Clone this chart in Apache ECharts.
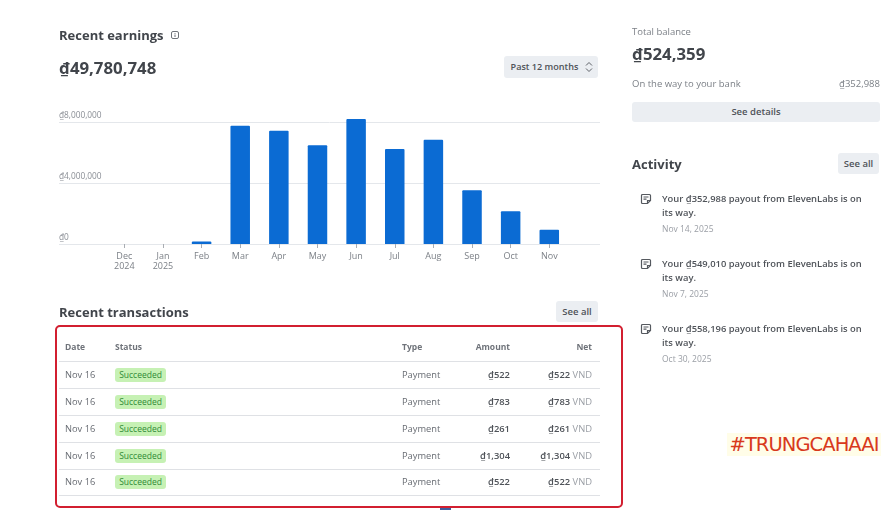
<!DOCTYPE html>
<html lang="en">
<head>
  <meta charset="UTF-8" />
  <title>Recent earnings</title>
  <script src="https://cdn.jsdelivr.net/npm/echarts@6/dist/echarts.min.js"></script>
  <style>
    html, body { margin: 0; padding: 0; background: #fff; }
    body { width: 889px; height: 510px; position: relative; overflow: hidden;
           font-family: "Open Sans", "Noto Sans", sans-serif; color: #4b4f56; }
    #chart { position: absolute; left: 0; top: 0; width: 889px; height: 510px; }
    .t { position: absolute; white-space: nowrap; line-height: 14px; transform: translateY(-7px); }
    .r { transform: translate(-100%, -7px); }
    .title { font-size: 13px; font-weight: 700; color: #41454b; }
    .big { font-size: 16.8px; font-weight: 700; color: #41454b; }
    .small { font-size: 9.5px; color: #7c8087; }
    .cell { font-size: 9.3px; color: #676b72; }
    .head { font-size: 8.5px; font-weight: 700; color: #6f737a; }
    .strong { font-size: 9.4px; font-weight: 600; color: #4f5359; }
    .date { font-size: 8.5px; color: #9a9ea5; }
    .vnd { color: #9a9ea5; font-weight: 400; }
    .btn { position: absolute; background: #ebeef2; border-radius: 3px; font-size: 9.5px;
           font-weight: 600; color: #4f5359; text-align: center; box-sizing: border-box; }
    .badge { position: absolute; left: 115px; width: 51px; height: 14px; line-height: 14px;
             background: #c6f1b4; border-radius: 3px; font-size: 8.5px; color: #2f8a35; text-align: center; }
    .rule { position: absolute; left: 59px; width: 541px; height: 1px; background: #dfe1e5; }
    #box { position: absolute; left: 55px; top: 325px; width: 564px; height: 179px;
           border: 2px solid #d21f30; border-radius: 5px; }
    #tab { position: absolute; left: 440px; top: 508px; width: 11px; height: 2px; background: #3f5f9f; }
    #mark { position: absolute; left: 727px; top: 433px; width: 154px; height: 23px; line-height: 23px;
            background: #fffde8; color: #d8391c; font-size: 19.5px; text-align: center;
            font-family: "DejaVu Sans", sans-serif; letter-spacing: -0.95px; }
    svg { position: absolute; }
  </style>
</head>
<body>
  <div id="chart"></div>
  <div id="page"></div>

  <script>
    const months = ['Dec\n2024', 'Jan\n2025', 'Feb', 'Mar', 'Apr', 'May', 'Jun', 'Jul', 'Aug', 'Sep', 'Oct', 'Nov'];
    const earnings = [0, 0, 170000, 7760000, 7430000, 6470000, 8200000, 6230000, 6840000, 3520000, 2140000, 940000];
    const yTicks = { 0: '₫0', 4000000: '₫4,000,000', 8000000: '₫8,000,000' };

    const txDates = ['Nov 16', 'Nov 16', 'Nov 16', 'Nov 16', 'Nov 16'];
    const txStatus = ['Succeeded', 'Succeeded', 'Succeeded', 'Succeeded', 'Succeeded'];
    const txTypes = ['Payment', 'Payment', 'Payment', 'Payment', 'Payment'];
    const txAmounts = ['₫522', '₫783', '₫261', '₫1,304', '₫522'];
    const rowCenters = [375, 402, 429, 456, 482];
    const rowRules = [361, 388, 415, 442, 469, 495];

    const payouts = ['₫352,988', '₫549,010', '₫558,196'];
    const payoutDates = ['Nov 14, 2025', 'Nov 7, 2025', 'Oct 30, 2025'];
    const payoutTops = [199, 264, 329];

    const chart = echarts.init(document.getElementById('chart'));
    chart.setOption({
      animation: false,
      grid: [
        // 背景网格：比柱子区域更宽
        { left: 59, top: 122, width: 541, height: 122 },
        { left: 105, top: 122, width: 463.6, height: 122 }
      ],
      xAxis: [
        { gridIndex: 0, type: 'value', min: 0, max: 1, show: false },
        {
          gridIndex: 1,
          type: 'category',
          data: months,
          axisLine: { show: false },
          axisTick: { show: true, alignWithLabel: true, length: 4, lineStyle: { color: '#a9adb3' } },
          axisLabel: { color: '#7c8087', fontSize: 9, lineHeight: 10.5, margin: 7, interval: 0,
                       fontFamily: 'Open Sans' }
        }
      ],
      yAxis: [
        {
          gridIndex: 0,
          type: 'value',
          min: 0,
          max: 8000000,
          interval: 4000000,
          axisLine: { show: false },
          axisTick: { show: false },
          splitLine: { lineStyle: { color: '#e4e7eb', width: 1 } },
          axisLabel: {
            inside: true,
            margin: 0,
            verticalAlign: 'bottom',
            padding: [0, 0, 2, 0],
            color: '#8a8e95',
            fontSize: 8.3,
            fontFamily: 'Open Sans',
            formatter: v => yTicks[v]
          }
        },
        { gridIndex: 1, type: 'value', min: 0, max: 8000000, interval: 4000000, show: false }
      ],
      series: [{
        type: 'bar',
        xAxisIndex: 1,
        yAxisIndex: 1,
        data: earnings,
        barWidth: 19.5,
        clip: false,
        itemStyle: { color: '#0b6bd3', borderRadius: [1, 1, 0, 0] }
      }]
    });

    // 图表外面的页面内容
    const page = document.getElementById('page');
    function text(cls, x, y, html) {
      const el = document.createElement('div');
      el.className = 't ' + cls;
      el.style.left = x + 'px';
      el.style.top = y + 'px';
      el.innerHTML = html;
      page.appendChild(el);
    }
    function button(x, y, w, h, label) {
      const el = document.createElement('div');
      el.className = 'btn';
      el.style.cssText = `left:${x}px;top:${y}px;width:${w}px;height:${h}px;line-height:${h}px`;
      el.textContent = label;
      page.appendChild(el);
      return el;
    }

    text('title', 59, 35, 'Recent earnings');
    text('big', 59, 68, '₫49,780,748');
    const range = button(504, 56, 94, 22, 'Past 12 months');
    range.style.paddingRight = '13px';
    range.style.fontSize = '9.1px';
    page.insertAdjacentHTML('beforeend',
      '<svg style="left:171px;top:31px" width="8" height="8" viewBox="0 0 8 8" fill="none" stroke="#6f737a">' +
      '<rect x=".5" y=".5" width="7" height="7" rx="1.5"/><path d="M4 3.5V6M4 2v.8"/></svg>' +
      '<svg style="left:585px;top:61px" width="8" height="12" viewBox="0 0 8 12" fill="none" stroke="#5d6167">' +
      '<path d="M1 4.5 4 1.5 7 4.5M1 7.5 4 10.5 7 7.5"/></svg>');

    text('title', 59, 312, 'Recent transactions');
    button(556, 301, 42, 21, 'See all');

    text('head', 65, 347, 'Date');
    text('head', 115, 347, 'Status');
    text('head', 402, 347, 'Type');
    text('head r', 510, 347, 'Amount');
    text('head r', 592, 347, 'Net');
    rowRules.forEach(y => page.insertAdjacentHTML('beforeend', `<div class="rule" style="top:${y}px"></div>`));
    rowCenters.forEach((y, i) => {
      text('cell', 65, y, txDates[i]);
      page.insertAdjacentHTML('beforeend', `<div class="badge" style="top:${y - 7}px">${txStatus[i]}</div>`);
      text('cell', 402, y, txTypes[i]);
      text('strong r', 510, y, txAmounts[i]);
      text('strong r', 592, y, `${txAmounts[i]} <span class="vnd">VND</span>`);
    });
    page.insertAdjacentHTML('beforeend', '<div id="box"></div><div id="tab"></div>');

    text('small', 632, 32, 'Total balance');
    text('big', 632, 54, '₫524,359');
    text('small', 632, 84, 'On the way to your bank');
    text('small r', 880, 84, '₫352,988');
    button(632, 102, 248, 20, 'See details');
    text('title', 632, 164, 'Activity');
    button(838, 153, 41, 21, 'See all');

    payoutTops.forEach((y, i) => {
      page.insertAdjacentHTML('beforeend',
        `<svg style="left:640px;top:${y - 6}px" width="12" height="12" viewBox="0 0 12 12" fill="none" stroke="#55595f" stroke-width="1.2">` +
        '<path d="M7.5 10.5H2.5a1 1 0 0 1-1-1v-7a1 1 0 0 1 1-1h7a1 1 0 0 1 1 1v5zM7.5 10.5v-3h3M3.5 4h5M3.5 6.2h3"/></svg>');
      text('strong', 662, y, `Your ${payouts[i]} payout from ElevenLabs is on`);
      text('strong', 662, y + 14, 'its way.');
      text('date', 662, y + 30, payoutDates[i]);
    });

    page.insertAdjacentHTML('beforeend', '<div id="mark">#TRUNGCAHAAI</div>');
  </script>
</body>
</html>
